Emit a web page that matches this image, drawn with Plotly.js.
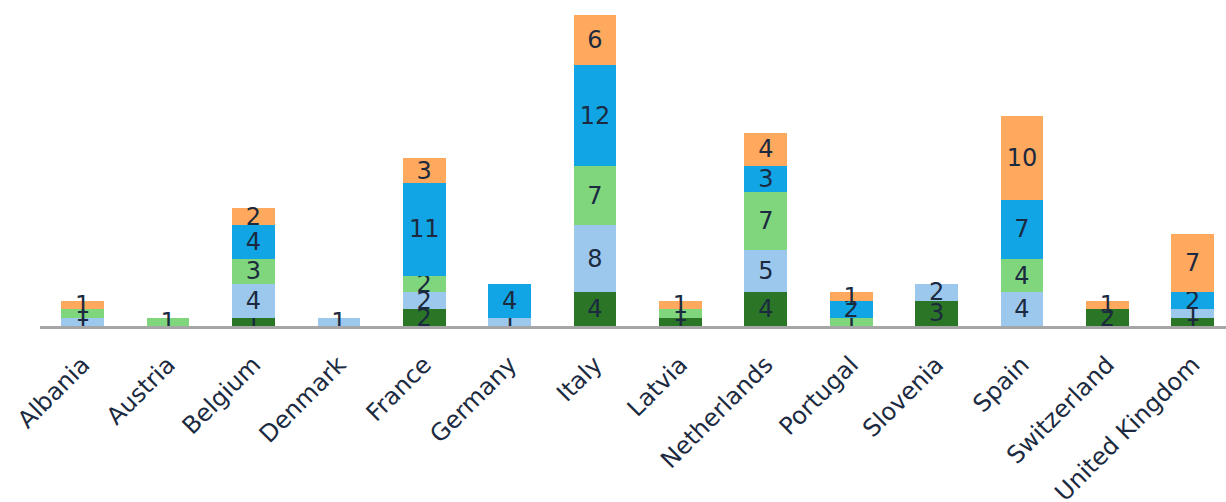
<!DOCTYPE html>
<html><head><meta charset="utf-8">
<script src="https://cdn.plot.ly/plotly-3.0.1.min.js"></script>
<style>html,body{margin:0;padding:0;background:#fff}#c{width:1226px;height:502px}</style>
</head><body><div id="c"></div>
<script>
const countries = ["Albania","Austria","Belgium","Denmark","France","Germany","Italy","Latvia","Netherlands","Portugal","Slovenia","Spain","Switzerland","United Kingdom"];
const seriesNames = ["Series 1","Series 2","Series 3","Series 4","Series 5"];
const darkGreen  = [null,null,1,null,2,null,4,1,4,null,3,null,2,1];
const lightBlue  = [1,null,4,1,2,1,8,null,5,null,2,4,null,1];
const lightGreen = [1,1,3,null,2,null,7,1,7,1,null,4,null,null];
const blue       = [null,null,4,null,11,4,12,null,3,2,null,7,null,2];
const orange     = [1,null,2,null,3,null,6,1,4,1,null,10,1,7];
const colors = ["#2a7526","#9dc8ee","#80d67c","#12a5e6","#ffa95e"];
const values = [darkGreen, lightBlue, lightGreen, blue, orange];
const font = "Century Gothic, DejaVu Sans, sans-serif";
const traces = values.map((v,i)=>({
  type:"bar", x:countries, y:v, name:seriesNames[i],
  marker:{color:colors[i], line:{width:0}},
  text:v.map(a=>a==null?"":String(a)), texttemplate:"%{text}",
  textposition:"inside", insidetextanchor:"middle", constraintext:"none", textangle:0,
  textfont:{family:font, size:24, color:"#1b2a3f"}, hoverinfo:"x+y"
}));
Plotly.newPlot("c", traces, {
  width:1226, height:502, barmode:"stack", bargap:0.5, showlegend:false,
  margin:{l:40, r:0, t:15, b:176},
  paper_bgcolor:"#fff", plot_bgcolor:"#fff",
  uniformtext:{mode:"show", minsize:24},
  xaxis:{range:[-0.5,13.39], tickangle:-45, showgrid:false, zeroline:false,
    showline:true, linecolor:"#a6a6a6", linewidth:3, ticks:"", ticklabelstandoff:12,
    tickfont:{family:font, size:24, color:"#1b2a3f"}},
  yaxis:{range:[0,37], visible:false, showgrid:false, zeroline:false}
}, {displayModeBar:false, staticPlot:true});
</script></body></html>
